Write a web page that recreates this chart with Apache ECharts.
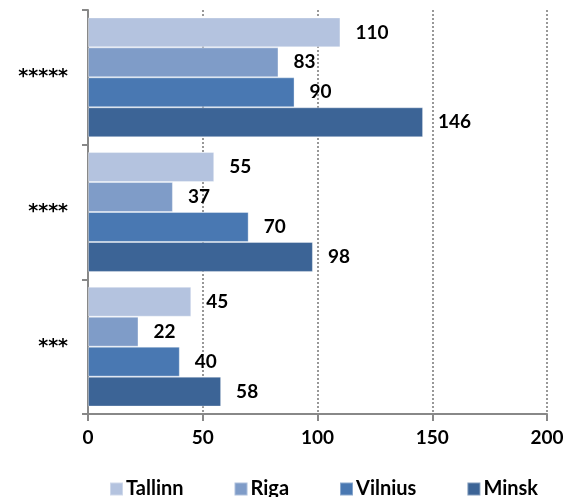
<!DOCTYPE html>
<html>
<head>
<meta charset="utf-8">
<script src="https://cdn.jsdelivr.net/npm/echarts@6/dist/echarts.min.js"></script>
<style>
html,body{margin:0;padding:0;background:#fff;}
#chartBar{width:576px;height:497px;}
</style>
</head>
<body>
<div id="chartBar"></div>
<script>
var categories = ['***', '****', '*****'];
var cities = ['Tallinn', 'Riga', 'Vilnius', 'Minsk'];
var tallinn = [45, 55, 110];
var riga = [22, 37, 83];
var vilnius = [40, 70, 90];
var minsk = [58, 98, 146];
var xTicks = [0, 50, 100, 150, 200];
var colors = {Tallinn:'#b4c3df', Riga:'#7f9cc8', Vilnius:'#4978b2', Minsk:'#3c6496'};

drawBar();
function drawBar(){
	var myChart = echarts.init(document.getElementById('chartBar'));
	var values = {Tallinn:tallinn, Riga:riga, Vilnius:vilnius, Minsk:minsk};
	var font = 'Lato';
	var series = cities.map(function(name){
		return {
			name: name,
			type: 'bar',
			barGap: 0,
			barCategoryGap: '11%',
			itemStyle: {color: colors[name], borderColor: 'rgba(255,255,255,0.35)', borderWidth: 1},
			label: {
				show: true,
				position: 'right',
				distance: 15,
				color: '#000',
				fontFamily: font,
				fontWeight: 'bold',
				fontSize: 19
			},
			data: values[name]
		};
	});
	var option = {
		animation: false,
		legend: {
			top: 474,
			left: 104,
			itemWidth: 13,
			itemHeight: 13,
			itemGap: 50,
			icon: 'rect',
			textStyle: {color:'#000', fontFamily: font, fontWeight:'bold', fontSize:20, padding:[0,0,0,-2]},
			data: cities
		},
		grid: {
			top: 10,
			left: 88,
			right: 29,
			bottom: 83,
			containLabel: false
		},
		xAxis: {
			type: 'value',
			min: xTicks[0],
			max: xTicks[xTicks.length-1],
			interval: 50,
			axisLine: {show: true, lineStyle: {color:'#888', width: 2}},
			axisTick: {show: true, length: 7, lineStyle: {color:'#888', width: 2}},
			axisLabel: {color:'#000', fontFamily: font, fontWeight:'bold', fontSize:19, margin: 14},
			splitLine: {show: true, lineStyle: {color:'#777', type:[2,2], width: 1.5}}
		},
		yAxis: {
			type: 'category',
			data: categories,
			axisLine: {show: true, lineStyle: {color:'#888', width: 2}},
			axisTick: {show: true, length: 6, lineStyle: {color:'#888', width: 2}},
			axisLabel: {color:'#000', fontFamily: 'DejaVu Sans', fontWeight:'bold', fontSize:19, margin: 20, padding:[0,0,8,0]}
		},
		series: series
	};
	myChart.setOption(option);
}
</script>
</body>
</html>
